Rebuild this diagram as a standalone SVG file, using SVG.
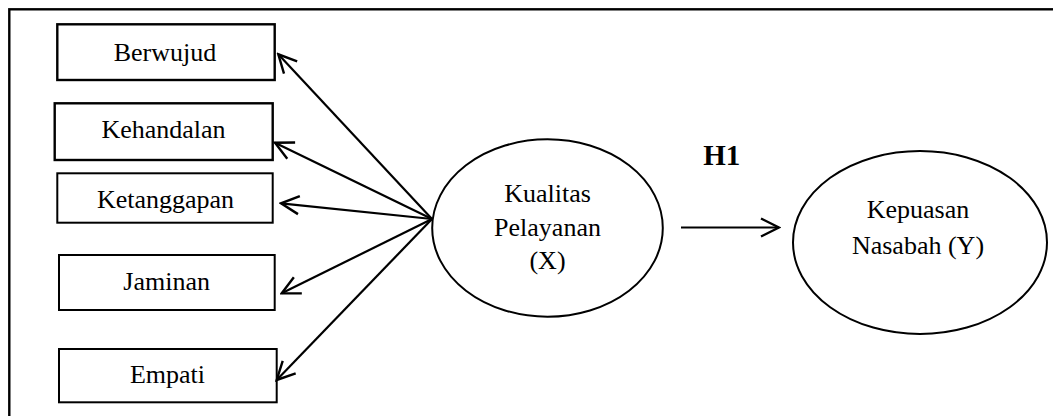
<svg xmlns="http://www.w3.org/2000/svg" width="1053" height="416" viewBox="0 0 1053 416">
<defs>
<style>
.box{fill:#fff;stroke:#000;stroke-width:2}
.thick{stroke-width:2.4}
.ell{fill:#fff;stroke:#000;stroke-width:2}
.t{font-family:"Liberation Serif","Times New Roman",serif;font-size:26px;fill:#000;text-anchor:middle}
.b{font-weight:bold;font-size:29px}
.c{stroke:#000;stroke-width:2.2;fill:none}
</style>
<marker id="ah" markerUnits="userSpaceOnUse" viewBox="-20 -11 22 22" refX="0" refY="0" markerWidth="22" markerHeight="22" orient="auto">
<path d="M-18,-9 L0,0 L-18,9" fill="none" stroke="#000" stroke-width="2.4"/>
</marker>
</defs>
<rect width="1053" height="416" fill="#fff"/>
<rect x="9.3" y="9.3" width="1200" height="600" fill="none" stroke="#000" stroke-width="2.4"/>
<g id="berwujud"><rect class="box thick" x="57.3" y="24.3" width="217.4" height="55.7"/><text class="t" x="165" y="61">Berwujud</text></g>
<g id="kehandalan"><rect class="box thick" x="54.7" y="103.3" width="218" height="56.7"/><text class="t" x="163.5" y="138.3">Kehandalan</text></g>
<g id="ketanggapan"><rect class="box" x="57.3" y="173.3" width="215.4" height="49.4"/><text class="t" x="165.5" y="208">Ketanggapan</text></g>
<g id="jaminan"><rect class="box" x="59" y="255" width="215.7" height="55"/><text class="t" x="166.7" y="290">Jaminan</text></g>
<g id="empati"><rect class="box" x="59" y="349" width="217.7" height="53.3"/><text class="t" x="167.5" y="383.3">Empati</text></g>
<g id="kualitas"><ellipse class="ell" cx="547.5" cy="228" rx="115.3" ry="88.7"/><text class="t" x="547.5" y="201.7">Kualitas</text><text class="t" x="547.5" y="236">Pelayanan</text><text class="t" x="547.5" y="269">(X)</text></g>
<g id="kepuasan"><ellipse class="ell" cx="920" cy="242.5" rx="127" ry="91.5"/><text class="t" x="918" y="218">Kepuasan</text><text class="t" x="918" y="254">Nasabah (Y)</text></g>
<g id="connectors">
<line class="c" x1="432" y1="219" x2="278.3" y2="54.3" marker-end="url(#ah)"/>
<line class="c" x1="432" y1="219" x2="275" y2="142.7" marker-end="url(#ah)"/>
<line class="c" x1="432" y1="219" x2="281" y2="203.3" marker-end="url(#ah)"/>
<line class="c" x1="432" y1="219" x2="281.7" y2="293.3" marker-end="url(#ah)"/>
<line class="c" x1="432" y1="219" x2="276.7" y2="380" marker-end="url(#ah)"/>
<line class="c" x1="681" y1="227.5" x2="779" y2="227.5" marker-end="url(#ah)"/>
<text class="t b" x="721.7" y="165">H1</text>
</g>
</svg>
